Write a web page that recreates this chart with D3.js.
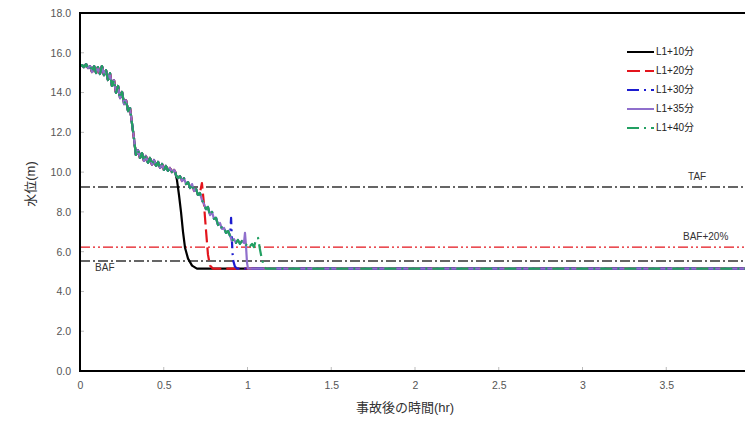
<!DOCTYPE html>
<html><head><meta charset="utf-8">
<script src="https://cdn.jsdelivr.net/npm/d3@7"></script>
<style>body{margin:0;background:#fff;font-family:Arial,"Liberation Sans","Noto Sans CJK JP",sans-serif;}</style>
</head><body><svg id="c" width="745" height="425"></svg>
<script>
// ---- data ----
const xTicks = [0, 0.5, 1, 1.5, 2, 2.5, 3, 3.5];
const yTicks = [0, 2, 4, 6, 8, 10, 12, 14, 16, 18];
const seriesNames = ["L1+10分", "L1+20分", "L1+30分", "L1+35分", "L1+40分"];
const refNames = ["TAF", "BAF+20%", "BAF"];
const refLevels = [9.25, 6.23, 5.53];
// shared trace (time hr, level m)
const commonTime = [0,0.012,0.024,0.036,0.048,0.060,0.072,0.084,0.096,0.107,0.119,0.131,0.143,0.155,0.167,0.179,0.191,0.203,0.215,0.227,0.239,0.251,0.263,0.275,0.287,0.299,0.310,0.322,0.334,0.346,0.358,0.370,0.382,0.394,0.406,0.418,0.430,0.442,0.454,0.466,0.478,0.490,0.501,0.513,0.525,0.537,0.549,0.561,0.567,
  0.573,0.585,0.597,0.609,0.621,0.633,0.645,0.657,0.669,0.681,0.693,0.704,0.716,
  0.728,0.740,0.752,0.764,0.776,0.788,0.800,0.812,0.824,0.836,0.848,0.860,0.872,0.884,0.896,
  0.907,0.919,0.931,0.943,0.955,0.967,0.979];
const commonLevel = [15.33,15.38,15.28,15.43,15.23,15.33,15.03,15.33,14.98,15.28,14.93,15.33,14.88,15.13,14.63,14.98,14.33,14.63,13.98,14.33,13.72,14.03,13.42,13.62,13.07,13.22,12.47,11.71,10.86,11.11,10.71,10.96,10.56,10.81,10.46,10.71,10.36,10.61,10.31,10.51,10.21,10.41,10.11,10.31,10.06,10.21,10.00,10.11,10.06,
  9.85,9.70,9.80,9.55,9.70,9.40,9.50,9.20,9.40,9.05,9.15,8.85,8.95,
  8.60,8.40,8.14,8.25,7.84,8.00,7.65,7.70,7.34,7.44,7.14,7.19,6.94,7.04,6.79,
  6.54,6.64,6.44,6.59,6.39,6.54,6.44];
// number of shared points each series keeps before its own tail
const branchCount = [49, 62, 77, 84, 84];
const tailTime = [
  [0.579,0.591,0.603,0.615,0.627,0.645,0.669,0.698,4],
  [0.728,0.740,0.752,0.764,0.776,0.793,4],
  [0.902,0.907,0.913,0.925,0.937,4],
  [0.985,0.991,0.997,1.003,4],
  [0.991,1.003,1.015,1.027,1.039,1.051,1.063,1.075,1.087,1.099,1.110,4]
];
const tailLevel = [
  [9.60,8.85,8.00,7.00,6.20,5.65,5.30,5.15,5.15],
  [9.45,8.40,7.10,5.85,5.30,5.15,5.15],
  [7.70,6.55,5.60,5.25,5.15,5.15],
  [6.95,6.30,5.45,5.15,5.15],
  [6.33,6.44,6.28,6.39,6.23,6.64,6.69,6.08,5.58,5.28,5.15,5.15]
];
const seriesColors = ["#000000", "#e3141c", "#1c1ccf", "#8f6fcc", "#22a062"];
const seriesDash = [null, "13,5", "12,5,2,5", null, "12,5,2,5"];
const refColors = ["#333333", "#e3141c", "#333333"];
const refDash = ["10,3,2,3", "10,3,2,3,2,3", "10,3,2,3"];

// ---- chart ----
const svg = d3.select("#c");
const x = d3.scaleLinear().domain([0, 4]).range([80, 750]);
const y = d3.scaleLinear().domain([0, 18]).range([371, 13]);
const fmt = d3.format(".1f");

// ticks
svg.append("g").attr("transform", "translate(80,0)")
  .call(d3.axisLeft(y).tickValues(yTicks).tickFormat(fmt).tickSize(0).tickPadding(9))
  .call(g => { g.select(".domain").remove();
    g.selectAll("text").attr("fill", "#555").style("font-size", "10.5px").style("font-family", "Arial, 'Liberation Sans', sans-serif"); });
svg.append("g").attr("transform", "translate(0,371)")
  .call(d3.axisBottom(x).tickValues(xTicks).tickFormat(d => d).tickSize(0).tickPadding(11))
  .call(g => { g.select(".domain").remove();
    g.selectAll("text").attr("fill", "#555").style("font-size", "10.5px").style("font-family", "Arial, 'Liberation Sans', sans-serif"); });
// inner tick marks
svg.append("g").selectAll("line").data(xTicks.slice(1)).join("line")
  .attr("x1", d => x(d)).attr("x2", d => x(d)).attr("y1", 371).attr("y2", 367)
  .attr("stroke", "#bbb").attr("stroke-width", 1);
svg.append("g").selectAll("line").data(yTicks.slice(1)).join("line")
  .attr("x1", 80).attr("x2", 84).attr("y1", d => y(d)).attr("y2", d => y(d))
  .attr("stroke", "#bbb").attr("stroke-width", 1);

// reference lines
svg.append("g").selectAll("line").data(refLevels).join("line")
  .attr("x1", x(0)).attr("x2", x(4)).attr("y1", d => y(d)).attr("y2", d => y(d))
  .attr("stroke", (d, i) => refColors[i]).attr("stroke-width", 1.4)
  .attr("stroke-dasharray", (d, i) => refDash[i]);
const refLabelX = [x(3.63), x(3.6), x(0.09)];
const refLabelDy = [-10, -10, 7];
svg.append("g").selectAll("text").data(refNames).join("text")
  .attr("x", (d, i) => refLabelX[i]).attr("y", (d, i) => y(refLevels[i]) + refLabelDy[i])
  .attr("dominant-baseline", "middle")
  .attr("fill", "#333").style("font-size", "10px").text(d => d);

// series
const line = d3.line().x(d => x(d[0])).y(d => y(d[1]));
seriesNames.forEach((name, i) => {
  const pts = [];
  for (let k = 0; k < branchCount[i]; k++) pts.push([commonTime[k], commonLevel[k]]);
  tailTime[i].forEach((t, k) => pts.push([t, tailLevel[i][k]]));
  svg.append("path").datum(pts).attr("d", line)
    .attr("fill", "none").attr("stroke", seriesColors[i]).attr("stroke-width", 2.2)
    .attr("stroke-linejoin", "round")
    .attr("stroke-dasharray", seriesDash[i]);
});

// frame
svg.append("line").attr("x1", 80).attr("x2", 80).attr("y1", 12).attr("y2", 372).attr("stroke", "#000").attr("stroke-width", 2);
svg.append("line").attr("x1", 79).attr("x2", 750).attr("y1", 371).attr("y2", 371).attr("stroke", "#000").attr("stroke-width", 2);
svg.append("line").attr("x1", 79).attr("x2", 750).attr("y1", 13).attr("y2", 13).attr("stroke", "#000").attr("stroke-width", 2);

// legend
const lg = svg.append("g");
seriesNames.forEach((name, i) => {
  const ly = 52 + i * 19;
  lg.append("line").attr("x1", 627).attr("x2", 654).attr("y1", ly).attr("y2", ly)
    .attr("stroke", seriesColors[i]).attr("stroke-width", 2)
    .attr("stroke-dasharray", seriesDash[i]);
  lg.append("text").attr("x", 656).attr("y", ly).attr("dominant-baseline", "middle")
    .attr("fill", "#222").style("font-size", "10px").text(name);
});

// axis titles
svg.append("text").attr("transform", "translate(32,184) rotate(-90)")
  .attr("text-anchor", "middle").attr("dominant-baseline", "middle")
  .attr("fill", "#333").style("font-size", "13px").text("水位(m)");
svg.append("text").attr("x", 405).attr("y", 409)
  .attr("text-anchor", "middle").attr("dominant-baseline", "middle")
  .attr("fill", "#333").style("font-size", "13px").text("事故後の時間(hr)");
</script></body></html>
